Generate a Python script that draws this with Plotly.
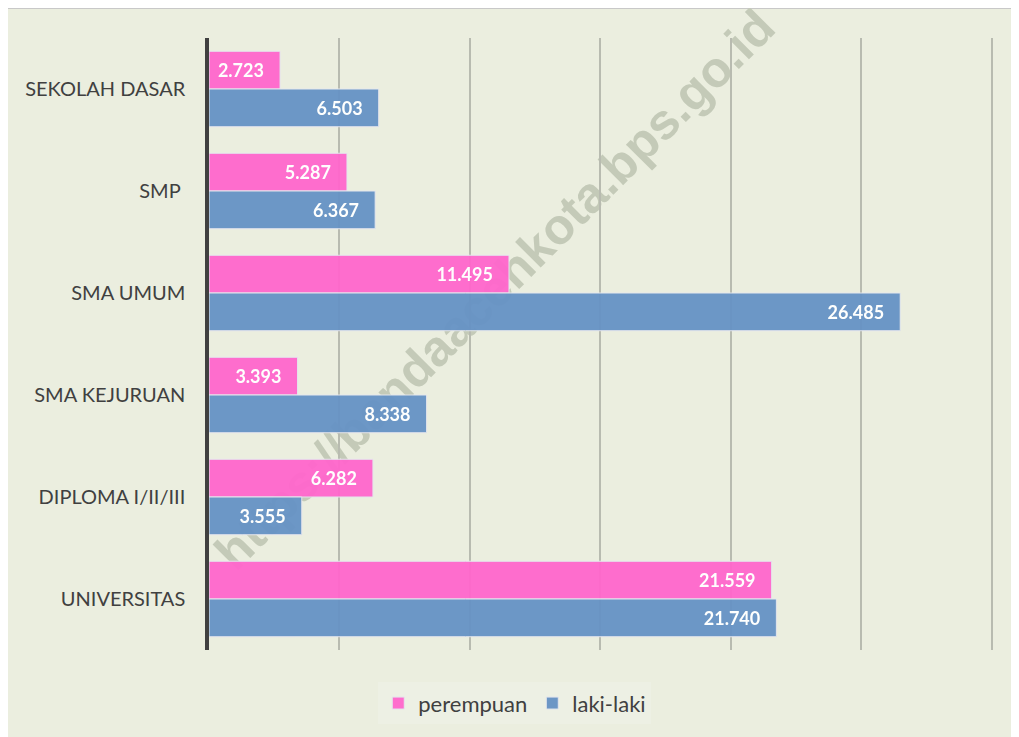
import plotly.graph_objects as go

categories = ["SEKOLAH DASAR", "SMP ", "SMA UMUM", "SMA KEJURUAN", "DIPLOMA I/II/III", "UNIVERSITAS"]
perempuan = [2723, 5287, 11495, 3393, 6282, 21559]
laki_laki = [6503, 6367, 26485, 8338, 3555, 21740]
series_names = ["perempuan", "laki-laki"]
x_ticks = [0, 5000, 10000, 15000, 20000, 25000, 30000]

BG = "#EBEEDF"
FONT = "Lato"

fig = go.Figure()
for name, vals, color in [(series_names[0], perempuan, "#FF66CC"), (series_names[1], laki_laki, "#6692C4")]:
    fig.add_trace(go.Bar(
        y=categories, x=vals, name=name, orientation="h",
        marker=dict(color=color, line=dict(color="#E4E6EE", width=1)),
        opacity=0.95,
        texttemplate="%{x:,}\u00a0\u00a0\u00a0",
        textposition="inside", insidetextanchor="end",
        textfont=dict(family=FONT, size=18, color="white", weight="bold"),
        constraintext="none",
        hoverinfo="skip",
    ))

fig.update_layout(
    width=1011, height=729,
    margin=dict(l=201, r=26, t=30, b=87),
    paper_bgcolor="white", plot_bgcolor="rgba(0,0,0,0)",
    barmode="group", bargap=0.26, bargroupgap=0.0,
    separators=",.",
    showlegend=True,
    legend=dict(orientation="h", x=0.39, xanchor="center", y=-0.087, yanchor="middle",
                font=dict(family=FONT, size=22, color="#404040"),
                bgcolor="#EDF0E4", itemwidth=30, traceorder="normal"),
    font=dict(family=FONT, color="#404040"),
)
fig.update_xaxes(range=[0, 30040], tickvals=x_ticks, showticklabels=False,
                 showgrid=True, gridcolor="#B8BBB0", gridwidth=1.5, zeroline=False,
                 showline=False, fixedrange=True)
fig.update_yaxes(autorange="reversed", showline=True, linecolor="#404040", linewidth=3.5,
                 tickfont=dict(family=FONT, size=20, color="#404040"),
                 ticks="", ticklabelstandoff=16, showgrid=False, fixedrange=True)

# outer frame
fig.add_shape(type="rect", xref="paper", yref="paper",
              x0=-0.259, x1=1.2, y0=-0.3, y1=1.049,
              fillcolor=BG, line=dict(color="#C8C8C8", width=2), layer="below")

# watermark (below the bars)
fig.add_shape(type="rect", xref="paper", yref="paper",
              x0=0.16, x1=0.56, y0=0.39, y1=0.80,
              fillcolor="rgba(0,0,0,0)", line=dict(width=0), layer="below",
              label=dict(text="<b>https://bandaacehkota.bps.go.id</b>", textangle=-45,
                         textposition="middle center",
                         font=dict(family="Liberation Sans", size=50, color="rgba(196,202,184,1)",
                                   weight="bold")))

fig.write_html("out.html")
